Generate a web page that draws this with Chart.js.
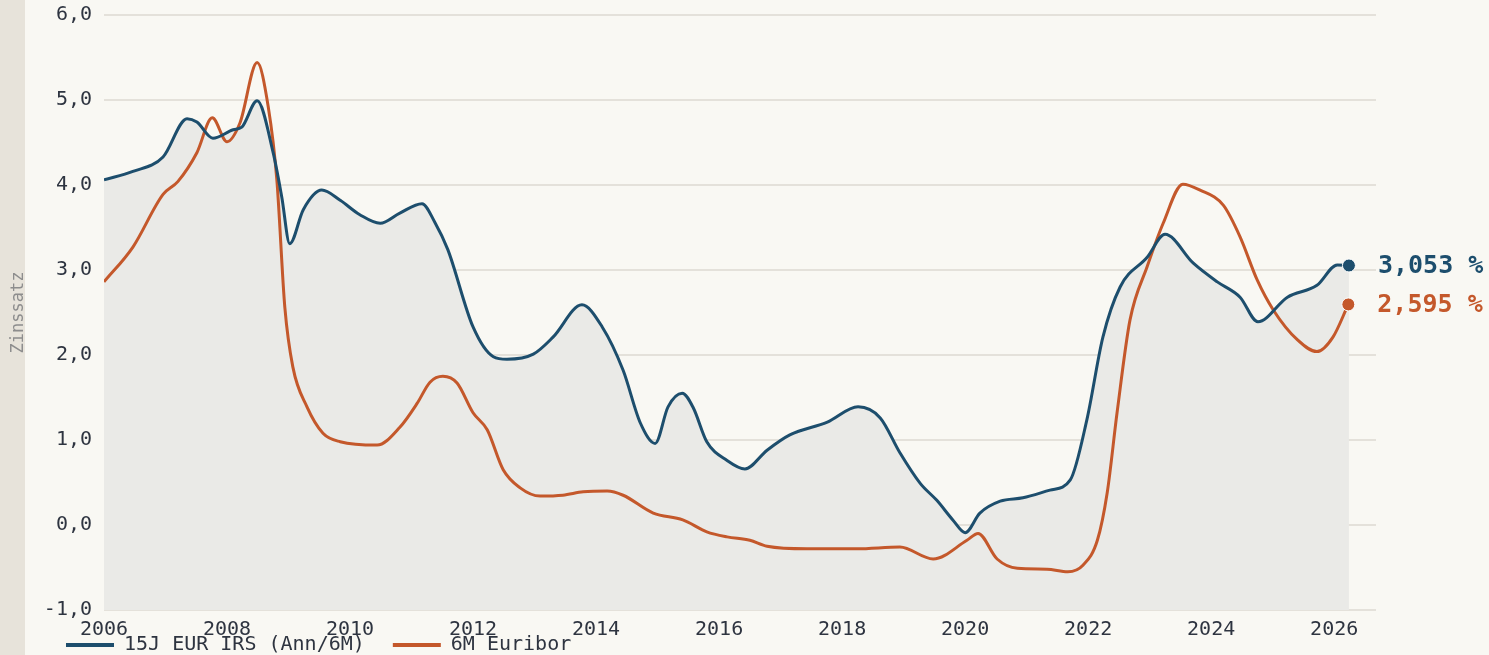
<!DOCTYPE html>
<html lang="de">
<head>
<meta charset="utf-8">
<title>15J EUR IRS vs. 6M Euribor</title>
<script src="https://cdn.jsdelivr.net/npm/chart.js@4/dist/chart.umd.min.js"></script>
<style>
  html, body { margin: 0; padding: 0; background: #f9f8f3; }
  #wrap { position: relative; width: 1489px; height: 655px; }
</style>
</head>
<body>
<div id="wrap"><canvas id="myChart"></canvas></div>
<script>
// 15J EUR IRS (Ann/6M)
const irsYears = [2006.00, 2006.47, 2006.96, 2007.35, 2007.51, 2007.77, 2008.10, 2008.24, 2008.49, 2008.75,
  2008.89, 2009.02, 2009.24, 2009.54, 2009.84, 2010.16, 2010.49, 2010.81, 2011.17, 2011.38,
  2011.59, 2012.00, 2012.33, 2012.55, 2012.98, 2013.30, 2013.77, 2014.10, 2014.44, 2014.72,
  2014.96, 2015.17, 2015.40, 2015.58, 2015.80, 2016.13, 2016.42, 2016.78, 2017.15, 2017.76,
  2018.26, 2018.62, 2018.94, 2019.27, 2019.54, 2019.80, 2020.00, 2020.24, 2020.57, 2020.94,
  2021.38, 2021.71, 2021.98, 2022.24, 2022.52, 2022.96, 2023.25, 2023.71, 2024.10, 2024.47,
  2024.76, 2025.24, 2025.72, 2026.05, 2026.24];
const irsValues = [4.06, 4.16, 4.33, 4.78, 4.74, 4.55, 4.65, 4.68, 4.99, 4.38,
  3.86, 3.31, 3.71, 3.94, 3.82, 3.65, 3.55, 3.67, 3.78, 3.56,
  3.24, 2.33, 1.98, 1.95, 2.01, 2.21, 2.59, 2.33, 1.82, 1.20,
  0.96, 1.39, 1.55, 1.38, 0.98, 0.76, 0.66, 0.88, 1.06, 1.21,
  1.39, 1.26, 0.85, 0.49, 0.29, 0.06, -0.09, 0.14, 0.28, 0.32,
  0.41, 0.53, 1.24, 2.21, 2.80, 3.15, 3.42, 3.08, 2.86, 2.68,
  2.39, 2.68, 2.82, 3.06, 3.053];

// 6M Euribor
const euriborYears = [2006.00, 2006.47, 2006.96, 2007.20, 2007.51, 2007.76, 2008.00, 2008.21, 2008.49, 2008.67,
  2008.81, 2008.94, 2009.07, 2009.30, 2009.56, 2009.84, 2010.44, 2010.81, 2011.09, 2011.30,
  2011.51, 2011.74, 2012.00, 2012.23, 2012.49, 2012.76, 2013.09, 2013.46, 2013.79, 2014.18,
  2014.44, 2014.93, 2015.41, 2015.80, 2016.13, 2016.50, 2016.78, 2017.43, 2018.24, 2018.94,
  2019.48, 2020.03, 2020.21, 2020.52, 2020.85, 2021.33, 2021.67, 2021.92, 2022.15, 2022.31,
  2022.47, 2022.68, 2022.96, 2023.22, 2023.54, 2023.82, 2024.20, 2024.47, 2024.75, 2025.01,
  2025.40, 2025.72, 2025.98, 2026.23];
const euriborValues = [2.86, 3.27, 3.89, 4.04, 4.38, 4.79, 4.51, 4.73, 5.44, 4.92,
  4.06, 2.56, 1.86, 1.39, 1.08, 0.98, 0.94, 1.15, 1.43, 1.68,
  1.75, 1.67, 1.32, 1.12, 0.65, 0.44, 0.34, 0.35, 0.39, 0.40,
  0.35, 0.14, 0.06, -0.08, -0.14, -0.18, -0.25, -0.28, -0.28, -0.26,
  -0.40, -0.18, -0.10, -0.40, -0.51, -0.52, -0.55, -0.47, -0.18, 0.38,
  1.32, 2.41, 3.04, 3.55, 4.01, 3.94, 3.76, 3.39, 2.88, 2.53,
  2.18, 2.04, 2.21, 2.595];

const seriesNames = ['15J EUR IRS (Ann/6M)', '6M Euribor'];
const xTicks = [2006, 2008, 2010, 2012, 2014, 2016, 2018, 2020, 2022, 2024, 2026];
const yTicks = [-1, 0, 1, 2, 3, 4, 5, 6];

const BLUE = '#1d4e6d';
const ORANGE = '#c4582b';
const BG = '#f9f8f3';
const STRIP = '#e7e3da';
const FILL = '#eaeae7';
const TEXT = '#2e3440';
const MONO = '"DejaVu Sans Mono", "Liberation Mono", monospace';

function fmt(v, d) {
  return v.toFixed(d).replace('.', ',');
}

function toPoints(xs, ys) {
  return xs.map((x, i) => ({ x: x, y: ys[i] }));
}

function lastDot(ctx) {
  return ctx.dataIndex === ctx.dataset.data.length - 1 ? 6.5 : 0;
}

const decor = {
  id: 'decor',
  beforeDraw(chart) {
    const c = chart.ctx;
    c.save();
    c.fillStyle = BG;
    c.fillRect(0, 0, chart.width, chart.height);
    c.fillStyle = STRIP;
    c.fillRect(0, 0, 25, chart.height);
    c.restore();
  },
  afterDraw(chart) {
    const c = chart.ctx;
    const area = chart.chartArea;

    // achsentitel
    c.save();
    c.translate(19, (area.top + area.bottom) / 2);
    c.rotate(-Math.PI / 2);
    c.font = '17px ' + MONO;
    c.fillStyle = '#8d8d8d';
    c.textAlign = 'center';
    c.textBaseline = 'middle';
    c.fillText('Zinssatz', 0, 0);
    c.restore();

    // werte am linienende
    chart.data.datasets.forEach((ds, i) => {
      const meta = chart.getDatasetMeta(i);
      const pt = meta.data[meta.data.length - 1];
      const v = ds.data[ds.data.length - 1].y;
      c.save();
      c.font = 'bold 25px ' + MONO;
      c.fillStyle = ds.borderColor;
      c.textAlign = 'left';
      c.textBaseline = 'middle';
      c.fillText(fmt(v, 3) + ' %', pt.x + 29, pt.y + 1);
      c.restore();
    });

    // legende
    c.save();
    c.font = '20px ' + MONO;
    c.textBaseline = 'middle';
    c.textAlign = 'left';
    let x = 66;
    const y = 645;
    chart.data.datasets.forEach((ds) => {
      c.fillStyle = ds.borderColor;
      c.fillRect(x, y - 2, 48, 4);
      c.fillStyle = TEXT;
      c.fillText(ds.label, x + 58, y);
      x += 58 + c.measureText(ds.label).width + 28;
    });
    c.restore();
  }
};

const ctx = document.getElementById('myChart');

new Chart(ctx, {
  type: 'line',
  data: {
    datasets: [{
      label: seriesNames[0],
      data: toPoints(irsYears, irsValues),
      borderColor: BLUE,
      backgroundColor: FILL,
      borderWidth: 3,
      fill: 'start',
      cubicInterpolationMode: 'monotone',
      pointRadius: lastDot,
      pointBackgroundColor: BLUE,
      pointBorderColor: '#ffffff',
      pointBorderWidth: 1
    }, {
      label: seriesNames[1],
      data: toPoints(euriborYears, euriborValues),
      borderColor: ORANGE,
      backgroundColor: ORANGE,
      borderWidth: 3,
      fill: false,
      cubicInterpolationMode: 'monotone',
      pointRadius: lastDot,
      pointBackgroundColor: ORANGE,
      pointBorderColor: '#ffffff',
      pointBorderWidth: 1
    }]
  },
  options: {
    responsive: true,
    maintainAspectRatio: false,
    animation: false,
    layout: { padding: { left: 0, right: 113, top: 15, bottom: 0 } },
    plugins: {
      legend: { display: false },
      tooltip: { enabled: false },
      filler: { drawTime: 'beforeDatasetsDraw' }
    },
    scales: {
      x: {
        type: 'linear',
        min: 2006,
        max: 2026.68,
        afterBuildTicks: (scale) => { scale.ticks = xTicks.map(v => ({ value: v })); },
        afterFit: (scale) => { scale.height = 45; },
        grid: { display: false, drawTicks: false },
        border: { display: false },
        ticks: {
          autoSkip: false,
          maxRotation: 0,
          padding: 8,
          color: TEXT,
          font: { family: MONO, size: 20 },
          callback: (v) => String(v)
        }
      },
      y: {
        min: -1,
        max: 6,
        afterBuildTicks: (scale) => { scale.ticks = yTicks.map(v => ({ value: v })); },
        afterFit: (scale) => {
          scale.width = 104;
          scale.paddingTop = 0;
          scale.paddingBottom = 0;
        },
        grid: { color: '#e4e1da', lineWidth: 2, drawTicks: false },
        border: { display: false },
        ticks: {
          padding: 12,
          color: TEXT,
          font: { family: MONO, size: 20 },
          callback: (v) => fmt(v, 1)
        }
      }
    }
  },
  plugins: [decor]
});
</script>
</body>
</html>
